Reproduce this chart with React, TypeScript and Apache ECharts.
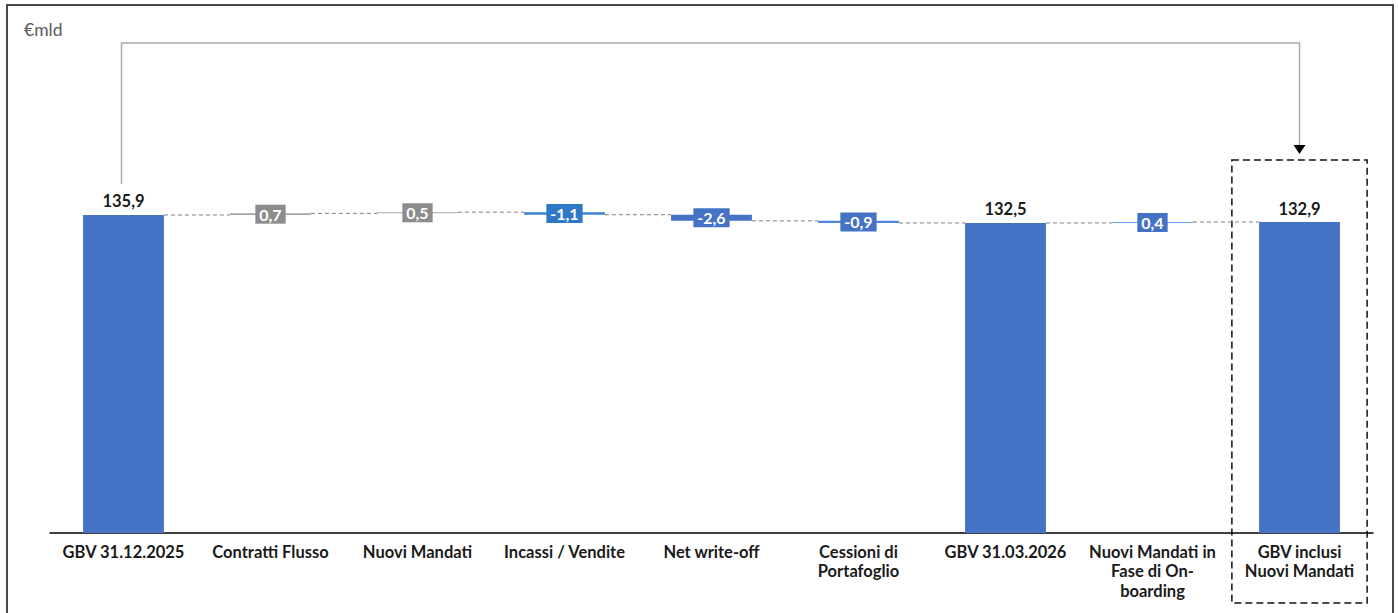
import React, { useEffect, useRef } from "react";
import * as echarts from "echarts";

const categories = [
  "GBV 31.12.2025",
  "Contratti Flusso",
  "Nuovi Mandati",
  "Incassi / Vendite",
  "Net write-off",
  "Cessioni di\nPortafoglio",
  "GBV 31.03.2026",
  "Nuovi Mandati in\nFase di On-\nboarding",
  "GBV inclusi\nNuovi Mandati",
];
const values = [135.9, 0.7, 0.5, -1.1, -2.6, -0.9, 132.5, 0.4, 132.9];
const isTotal = [true, false, false, false, false, false, true, false, true];
const unitLabel = "€mld";

const FONT = "Lato, 'Open Sans', sans-serif";
const fmt = (v: number) => v.toFixed(1).replace(".", ",");

function colorsFor(i: number): { bar: string; label: string } {
  if (isTotal[i]) return { bar: "#4472C4", label: "#4472C4" };
  if (values[i] > 0 && i < 3) return { bar: "#a6a6a6", label: "#8c8c8c" };
  if (i === 3) return { bar: "#3a84cf", label: "#2f78c4" };
  if (i === 4) return { bar: "#4472C4", label: "#4472C4" };
  if (i === 5) return { bar: "#4f86dc", label: "#4472C4" };
  return { bar: "#6d9de6", label: "#4472C4" };
}

export default function App() {
  const ref = useRef<HTMLDivElement>(null);
  useEffect(() => {
    if (!ref.current) return;
    const chart = echarts.init(ref.current, null, { renderer: "svg" });

    const base: number[] = [];
    const heights: number[] = [];
    const levels: number[] = [];
    let run = 0;
    values.forEach((v, i) => {
      if (isTotal[i]) {
        base.push(0);
        heights.push(v);
        run = v;
      } else {
        if (v >= 0) {
          base.push(run);
          heights.push(v);
        } else {
          base.push(run + v);
          heights.push(-v);
        }
        run = run + v;
      }
      levels.push(Math.round(run * 10) / 10);
    });

    const barWidthRatio = 0.55;

    chart.setOption({
      animation: false,
      grid: { left: 50, right: 25, top: 182, bottom: 80 },
      xAxis: {
        type: "category",
        data: categories,
        axisLine: { lineStyle: { color: "#000", width: 1.5 } },
        axisTick: { show: false },
        axisLabel: {
          interval: 0,
          margin: 9,
          color: "#1a1a1a",
          fontFamily: FONT,
          fontWeight: "bold",
          fontSize: 16.5,
          lineHeight: 19.5,
          align: "center",
        },
      },
      yAxis: { type: "value", min: 0, max: 150, show: false, splitLine: { show: false } },
      series: [
        {
          type: "bar",
          stack: "wf",
          data: base,
          barWidth: barWidthRatio * 100 + "%",
          itemStyle: { color: "transparent" },
          silent: true,
        },
        {
          type: "bar",
          stack: "wf",
          data: heights.map((h, i) => {
            const c = colorsFor(i);
            return {
              value: h,
              itemStyle: { color: c.bar },
              label: isTotal[i]
                ? {
                    show: true,
                    position: "top",
                    distance: 5,
                    formatter: fmt(values[i]),
                    color: "#1a1a1a",
                    fontFamily: FONT,
                    fontWeight: "bold",
                    fontSize: 16.5,
                  }
                : {
                    show: true,
                    position: "inside",
                    formatter: fmt(values[i]),
                    color: "#fff",
                    fontFamily: FONT,
                    fontWeight: "bold",
                    fontSize: 16,
                    lineHeight: 17,
                    backgroundColor: c.label,
                    padding: [1, 4, 1, 4],
                  },
            };
          }),
        },
        {
          type: "custom",
          data: levels.slice(0, levels.length - 1).map((l, i) => [i, l]),
          renderItem: (params: any, api: any) => {
            const i = api.value(0);
            const l = api.value(1);
            const p0 = api.coord([i, l]);
            const p1 = api.coord([i + 1, l]);
            const hw = (api.size([1, 0])[0] * barWidthRatio) / 2;
            return {
              type: "line",
              shape: { x1: p0[0] + hw, y1: p0[1], x2: p1[0] - hw, y2: p1[1] },
              style: { stroke: "#7f7f7f", lineWidth: 1, lineDash: [4, 3] },
              z2: 0,
            };
          },
          z: 1,
          silent: true,
        },
      ],
    });

    const first = chart.convertToPixel({ gridIndex: 0 }, [0, values[0]]) as number[];
    const lastIdx = categories.length - 1;
    const last = chart.convertToPixel({ gridIndex: 0 }, [lastIdx, values[lastIdx]]) as number[];
    const catW = (last[0] - first[0]) / lastIdx;
    const lineTop = 43;
    const boxTop = last[1] - 62;
    const boxW = catW * 0.92;

    chart.setOption({
      graphic: [
        {
          type: "rect",
          shape: { x: 7, y: 5, width: 1386, height: 640 },
          style: { fill: "none", stroke: "#4a4a4a", lineWidth: 2 },
          silent: true,
        },
        {
          type: "text",
          x: 24,
          y: 29,
          style: {
            text: unitLabel,
            fill: "#595959",
            font: `17.5px ${FONT}`,
            verticalAlign: "middle",
          },
        },
        {
          type: "polyline",
          shape: {
            points: [
              [first[0] - 2, first[1] - 31],
              [first[0] - 2, lineTop],
              [last[0], lineTop],
              [last[0], boxTop - 14],
            ],
          },
          style: { fill: "none", stroke: "#ababab", lineWidth: 1.5 },
        },
        {
          type: "polygon",
          shape: {
            points: [
              [last[0] - 6, boxTop - 15],
              [last[0] + 6, boxTop - 15],
              [last[0], boxTop - 6],
            ],
          },
          style: { fill: "#000" },
        },
        {
          type: "rect",
          shape: { x: last[0] - boxW / 2, y: boxTop, width: boxW, height: 603 - boxTop },
          style: { fill: "none", stroke: "#111", lineWidth: 1.5, lineDash: [7, 4] },
        },
      ],
    });

    return () => chart.dispose();
  }, []);
  return (
    <div
      ref={ref}
      style={{ position: "fixed", left: 0, top: 0, width: 1398, height: 613, background: "#fff" }}
    />
  );
}
